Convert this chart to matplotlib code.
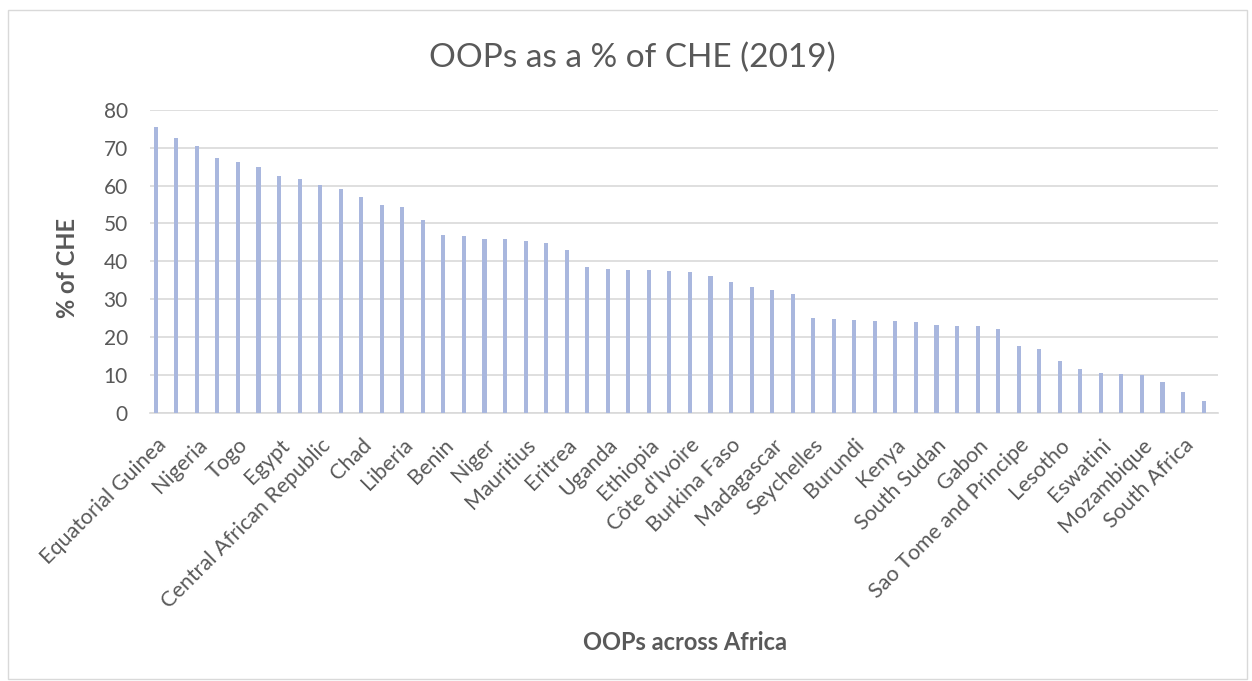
import matplotlib
matplotlib.use("Agg")
import matplotlib.pyplot as plt
from matplotlib.patches import Rectangle

plt.rcParams['font.family'] = ['Lato', 'DejaVu Sans']

# countries sorted by OOP share; only every other name is shown on the axis
countries = [
    "Equatorial Guinea", "Cameroon", "Nigeria", "Sudan", "Togo", "Guinea",
    "Egypt", "Comoros", "Central African Republic", "Morocco", "Chad",
    "Sierra Leone", "Liberia", "Congo", "Benin", "Mali", "Niger",
    "Guinea-Bissau", "Mauritius", "Tunisia", "Eritrea", "DR Congo", "Uganda",
    "Angola", "Ethiopia", "Tanzania", "Côte d'Ivoire", "Algeria",
    "Burkina Faso", "Ghana", "Madagascar", "Senegal", "Seychelles",
    "Mauritania", "Burundi", "Cabo Verde", "Kenya", "Zimbabwe", "South Sudan",
    "Djibouti", "Gabon", "Gambia", "Sao Tome and Principe", "Zambia",
    "Lesotho", "Rwanda", "Eswatini", "Malawi", "Mozambique", "Namibia",
    "South Africa", "Botswana",
]
oop_share = [
    75.4, 72.5, 70.4, 67.2, 66.2, 65.0, 62.6, 61.7, 60.2, 59.0,
    57.0, 55.0, 54.3, 50.9, 46.9, 46.7, 46.0, 45.8, 45.5, 44.9,
    43.0, 38.4, 38.1, 37.8, 37.7, 37.4, 37.1, 36.1, 34.6, 33.3,
    32.4, 31.3, 25.0, 24.8, 24.5, 24.2, 24.1, 24.0, 23.3, 23.0,
    22.9, 22.0, 17.5, 16.7, 13.6, 11.5, 10.4, 10.1, 9.9, 8.0,
    5.5, 3.0,
]
y_ticks = [0, 10, 20, 30, 40, 50, 60, 70, 80]

text_col = "#595959"
grid_col = "#D9D9D9"

fig = plt.figure(figsize=(12.52, 6.81), dpi=100)
fig.patches.append(Rectangle((0.006, 0.003), 0.99, 0.983, transform=fig.transFigure,
                             fill=False, edgecolor=grid_col, linewidth=1))

ax = fig.add_axes([0.1198, 0.394, 0.853, 0.4445])
x = list(range(len(countries)))
ax.bar(x, oop_share, width=0.2, color="#A9B7DE", zorder=3)

ax.set_ylim(0, 80)
ax.set_yticks(y_ticks)
ax.set_xlim(-0.28, len(countries) - 0.3)
ax.yaxis.grid(True, color=grid_col, linewidth=1.2, zorder=0)
ax.set_axisbelow(True)

for side in ["top", "right", "left"]:
    ax.spines[side].set_visible(False)
ax.spines["bottom"].set_color(grid_col)
ax.spines["bottom"].set_linewidth(1.2)

ax.set_xticks(x[::2])
ax.set_xticklabels(countries[::2], rotation=45, ha="right", rotation_mode="anchor",
                   fontsize=15.5, color=text_col)
ax.tick_params(axis="x", length=0, pad=16)
ax.tick_params(axis="y", length=0, labelsize=15, labelcolor=text_col, pad=16)

fig.text(0.054, 0.606, "% of CHE", rotation=90, ha="center", va="center",
         fontsize=17, fontweight="bold", color=text_col)
fig.text(0.547, 0.057, "OOPs across Africa", ha="center", va="center",
         fontsize=17, fontweight="bold", color=text_col)
fig.text(0.505, 0.915, "OOPs as a % of CHE (2019)", ha="center", va="center",
         fontsize=24, color=text_col)

fig.savefig("out.png", dpi=100)
